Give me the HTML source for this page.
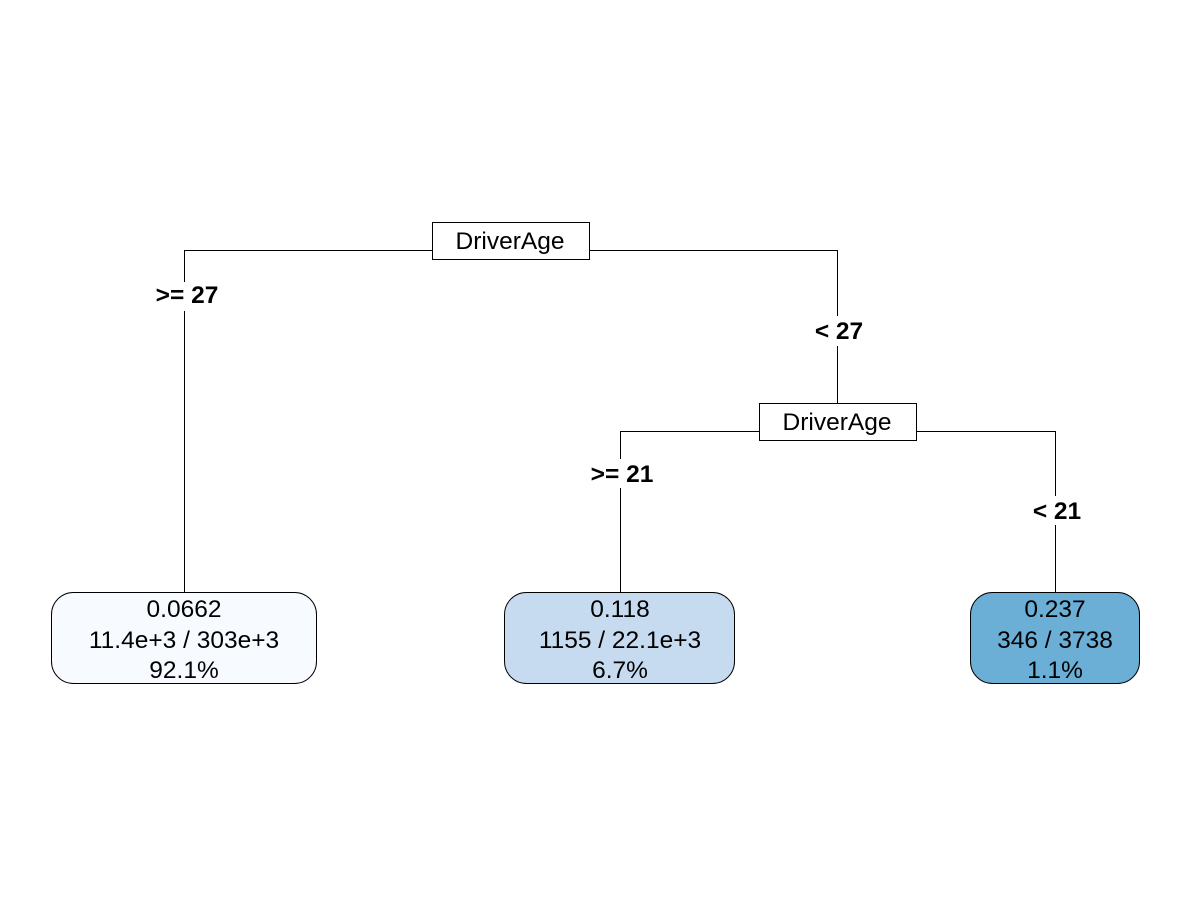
<!DOCTYPE html>
<html><head><style>body{margin:0;background:#fff}</style></head><body>
<svg width="1200" height="900" xmlns="http://www.w3.org/2000/svg" font-family="Liberation Sans, Arial, sans-serif">
<rect width="1200" height="900" fill="#fff"/>
<g stroke="#000" stroke-width="1" fill="none">
<path d="M432.5 250.5H184.5V282M184.5 311V592"/>
<path d="M589.5 250.5H837.5V316M837.5 346V403"/>
<path d="M759.5 431.5H620.5V459M620.5 488V592"/>
<path d="M916.5 431.5H1055.5V496M1055.5 525V592"/>
</g>
<rect x="432.5" y="222.5" width="157" height="37" fill="#fff" stroke="#000"/>
<rect x="759.5" y="403.5" width="157" height="37" fill="#fff" stroke="#000"/>
<g font-size="24.5" text-anchor="middle" fill="#000">
<text x="510" y="249">DriverAge</text>
<text x="837" y="430">DriverAge</text>
</g>
<g font-size="24.5" font-weight="bold" text-anchor="middle" fill="#000">
<text x="187" y="303">&gt;= 27</text>
<text x="839" y="339">&lt; 27</text>
<text x="622" y="482">&gt;= 21</text>
<text x="1057" y="519">&lt; 21</text>
</g>
<rect x="51.5" y="592.5" width="265" height="91" rx="22" fill="#f7fbff" stroke="#000"/>
<rect x="504.5" y="592.5" width="230" height="91" rx="22" fill="#c6dbef" stroke="#000"/>
<rect x="970.5" y="592.5" width="169" height="91" rx="22" fill="#6baed6" stroke="#000"/>
<g font-size="24.5" text-anchor="middle" fill="#000">
<text x="184" y="617">0.0662</text><text x="184" y="648">11.4e+3 / 303e+3</text><text x="184" y="678">92.1%</text>
<text x="620" y="617">0.118</text><text x="620" y="648">1155 / 22.1e+3</text><text x="620" y="678">6.7%</text>
<text x="1055" y="617">0.237</text><text x="1055" y="648">346 / 3738</text><text x="1055" y="678">1.1%</text>
</g>
</svg>
</body></html>
